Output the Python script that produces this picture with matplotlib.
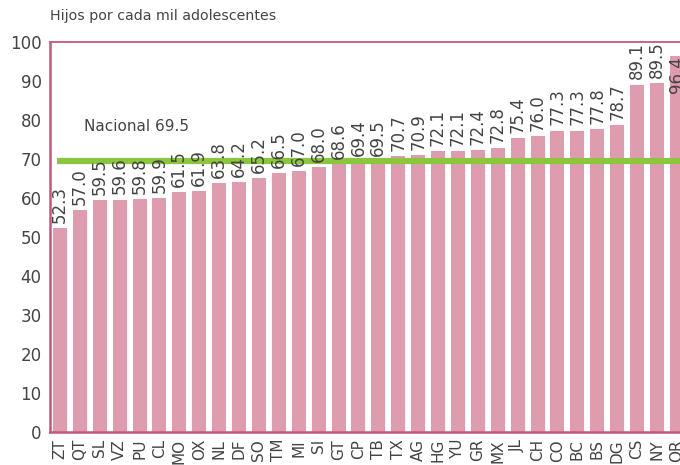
import matplotlib
matplotlib.use("Agg")
import matplotlib.pyplot as plt

estados = ["ZT", "QT", "SL", "VZ", "PU", "CL", "MO", "OX", "NL", "DF", "SO", "TM",
           "MI", "SI", "GT", "CP", "TB", "TX", "AG", "HG", "YU", "GR", "MX", "JL",
           "CH", "CO", "BC", "BS", "DG", "CS", "NY", "OR"]
tasas = [52.3, 57.0, 59.5, 59.6, 59.8, 59.9, 61.5, 61.9, 63.8, 64.2, 65.2, 66.5,
         67.0, 68.0, 68.6, 69.4, 69.5, 70.7, 70.9, 72.1, 72.1, 72.4, 72.8, 75.4,
         76.0, 77.3, 77.3, 77.8, 78.7, 89.1, 89.5, 96.4]
nacional = 69.5
y_ticks = [0, 10, 20, 30, 40, 50, 60, 70, 80, 90, 100]

plt.rcParams["font.family"] = ["DejaVu Sans"]

W, H = 680, 465
fig = plt.figure(figsize=(W / 100, H / 100), dpi=100)
ax = fig.add_axes([50 / W, 33 / H, 636.8 / W, 390 / H])

bar_color = "#df9caf"
spine_color = "#c8557f"
text_color = "#444444"

x = list(range(len(estados)))
ax.bar(x, tasas, width=0.7, color=bar_color, zorder=2)

# National average line
ax.plot([-0.15, len(estados)], [nacional, nacional], color="#8cc63e",
        linewidth=4.5, solid_capstyle="butt", zorder=3, clip_on=True)
ax.text(1.2, 78.3, f"Nacional {nacional}", fontsize=11, color=text_color,
        ha="left", va="center", zorder=4)

# Value labels above each bar
for xi, v in zip(x, tasas):
    if v > 92:
        ax.text(xi, v, f"{v:.1f}", rotation=90, ha="center", va="top",
                fontsize=12, color=text_color, zorder=4)
    else:
        ax.text(xi, v + 1.3, f"{v:.1f}", rotation=90, ha="center", va="bottom",
                fontsize=12, color=text_color, zorder=4)

ax.set_xlim(-0.5, len(estados) - 0.5)
ax.set_ylim(0, 100)
ax.set_yticks(y_ticks)
ax.set_yticklabels([str(t) for t in y_ticks], fontsize=12, color=text_color)
ax.set_xticks(x)
ax.set_xticklabels(estados, rotation=90, fontsize=11, color=text_color)
ax.tick_params(axis="both", length=0)
ax.tick_params(axis="y", pad=6)
ax.tick_params(axis="x", pad=5)

for side in ["left", "bottom"]:
    ax.spines[side].set_color(spine_color)
    ax.spines[side].set_linewidth(1.8)
ax.spines["top"].set_color(spine_color)
ax.spines["top"].set_linewidth(1.3)
ax.spines["right"].set_visible(False)

fig.text(50 / W, 1 - 16 / H, "Hijos por cada mil adolescentes", fontsize=10.2,
         color=text_color, ha="left", va="center")

fig.savefig("out.png", dpi=100)
